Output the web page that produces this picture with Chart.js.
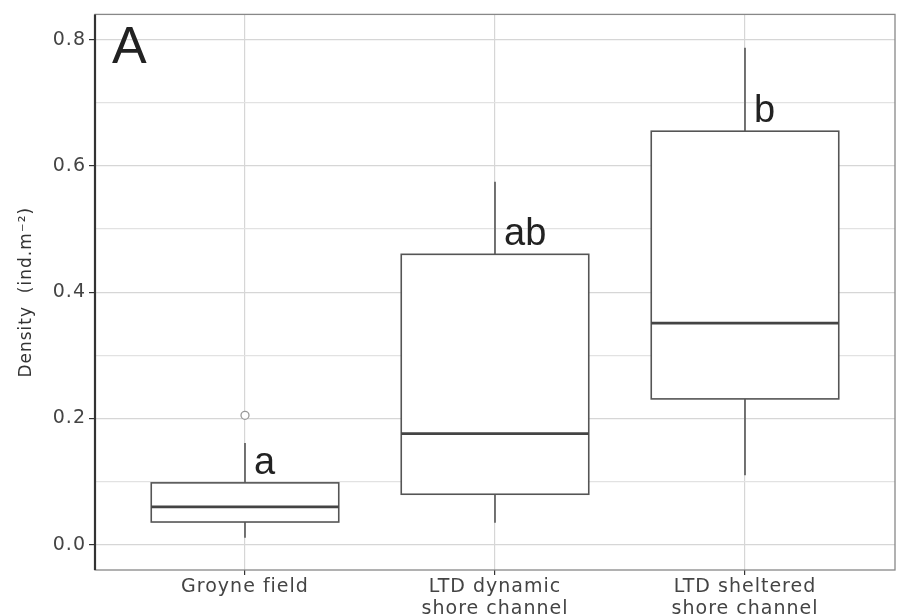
<!DOCTYPE html>
<html>
<head>
<meta charset="utf-8">
<script src="https://cdn.jsdelivr.net/npm/chart.js@4.4.1/dist/chart.umd.min.js"></script>
<style>
  html, body { margin: 0; padding: 0; background: #fff; }
</style>
</head>
<body>
<canvas id="chart" width="903" height="616"></canvas>
<script>
// box statistics per site
const categories = [['Groyne field'], ['LTD dynamic', 'shore channel'], ['LTD sheltered', 'shore channel']];
const whiskerLow = [0.011, 0.035, 0.110];
const q1 = [0.036, 0.080, 0.231];
const median = [0.060, 0.176, 0.351];
const q3 = [0.098, 0.460, 0.655];
const whiskerHigh = [0.161, 0.575, 0.787];
const outliers = [[0.205], [], []];
const groupLetters = ['a', 'ab', 'b'];
const yTicks = [0, 0.1, 0.2, 0.3, 0.4, 0.5, 0.6, 0.7, 0.8];
const panelLabel = 'A';

const boxWidth = 0.75;

let outlierPoints = [];
outliers.forEach((vals, i) => {
  vals.forEach(v => outlierPoints.push({ x: i + 1, y: v }));
});

// draws the boxes, whiskers, letters and frame using the chart scales
const boxPlugin = {
  id: 'boxes',
  beforeDraw(chart) {
    chart.ctx.letterSpacing = '1px';
  },
  afterDatasetsDraw(chart) {
    let ctx = chart.ctx;
    let xs = chart.scales.x;
    let ys = chart.scales.y;
    ctx.save();
    ctx.letterSpacing = '0px';
    for (let i = 0; i < categories.length; i++) {
      let cx = xs.getPixelForValue(i + 1);
      let left = xs.getPixelForValue(i + 1 - boxWidth / 2);
      let right = xs.getPixelForValue(i + 1 + boxWidth / 2);
      let yLow = ys.getPixelForValue(whiskerLow[i]);
      let yQ1 = ys.getPixelForValue(q1[i]);
      let yMed = ys.getPixelForValue(median[i]);
      let yQ3 = ys.getPixelForValue(q3[i]);
      let yHigh = ys.getPixelForValue(whiskerHigh[i]);

      ctx.strokeStyle = '#555';
      ctx.lineWidth = 1.6;
      ctx.beginPath();
      ctx.moveTo(cx, yLow); ctx.lineTo(cx, yQ1);
      ctx.moveTo(cx, yQ3); ctx.lineTo(cx, yHigh);
      ctx.stroke();

      ctx.fillStyle = '#fff';
      ctx.fillRect(left, yQ3, right - left, yQ1 - yQ3);
      ctx.strokeRect(left, yQ3, right - left, yQ1 - yQ3);

      ctx.strokeStyle = '#444';
      ctx.lineWidth = 2.6;
      ctx.beginPath();
      ctx.moveTo(left, yMed); ctx.lineTo(right, yMed);
      ctx.stroke();

      ctx.fillStyle = '#222';
      ctx.font = '38px "Liberation Sans", Arial, sans-serif';
      ctx.textAlign = 'left';
      ctx.textBaseline = 'alphabetic';
      ctx.fillText(groupLetters[i], cx + 9, yQ3 - 9);
    }

    let area = chart.chartArea;
    ctx.fillStyle = '#222';
    ctx.font = '52px "Liberation Sans", Arial, sans-serif';
    ctx.fillText(panelLabel, area.left + 17, area.top + 49);
    ctx.restore();
  },
  afterDraw(chart) {
    let ctx = chart.ctx;
    let a = chart.chartArea;
    ctx.save();
    ctx.strokeStyle = '#888';
    ctx.lineWidth = 1.3;
    ctx.strokeRect(a.left, a.top, a.right - a.left, a.bottom - a.top);
    ctx.strokeStyle = '#333';
    ctx.lineWidth = 2.2;
    ctx.beginPath();
    ctx.moveTo(a.left, a.top); ctx.lineTo(a.left, a.bottom);
    ctx.stroke();
    ctx.restore();
    ctx.letterSpacing = '0px';
  }
};

let ctx = document.getElementById('chart').getContext('2d');
new Chart(ctx, {
  type: 'scatter',
  data: {
    datasets: [{
      label: 'outliers',
      data: outlierPoints,
      pointRadius: 4,
      pointBorderWidth: 1.3,
      pointBorderColor: '#999',
      pointBackgroundColor: '#fff'
    }]
  },
  options: {
    responsive: false,
    animation: false,
    devicePixelRatio: 1,
    layout: { padding: { top: 12, right: 8, left: 0, bottom: 0 } },
    plugins: { legend: { display: false }, tooltip: { enabled: false } },
    scales: {
      x: {
        type: 'linear',
        min: 0.4,
        max: 3.6,
        afterBuildTicks: s => { s.ticks = categories.map((c, i) => ({ value: i + 1 })); },
        afterFit: s => { s.height = 46; },
        border: { display: false },
        grid: { color: '#d6d6d6', lineWidth: 1.2, tickLength: 5, tickColor: '#333', tickWidth: 1.2 },
        ticks: {
          autoSkip: false,
          maxRotation: 0,
          padding: 1,
          color: '#444',
          font: { family: 'DejaVu Sans', size: 19, lineHeight: 1.15 },
          callback: v => categories[v - 1]
        }
      },
      y: {
        min: -0.04,
        max: 0.84,
        afterBuildTicks: s => { s.ticks = yTicks.map(v => ({ value: v })); },
        afterFit: s => { s.width = 95; },
        border: { display: false },
        grid: {
          color: c => c.index % 2 === 0 ? '#d6d6d6' : '#e2e2e2',
          lineWidth: 1.2,
          tickLength: 6,
          tickWidth: 1.2,
          tickColor: c => c.index % 2 === 0 ? '#333' : 'rgba(0,0,0,0)'
        },
        ticks: {
          padding: 3,
          color: '#444',
          font: { family: 'DejaVu Sans', size: 19 },
          callback: (v, i) => i % 2 === 0 ? v.toFixed(1) : ''
        },
        title: {
          display: true,
          text: 'Density  (ind.m⁻²)',
          color: '#333',
          font: { family: 'DejaVu Sans', size: 17 },
          padding: { top: 16, bottom: 0 }
        }
      }
    }
  },
  plugins: [boxPlugin]
});
</script>
</body>
</html>
